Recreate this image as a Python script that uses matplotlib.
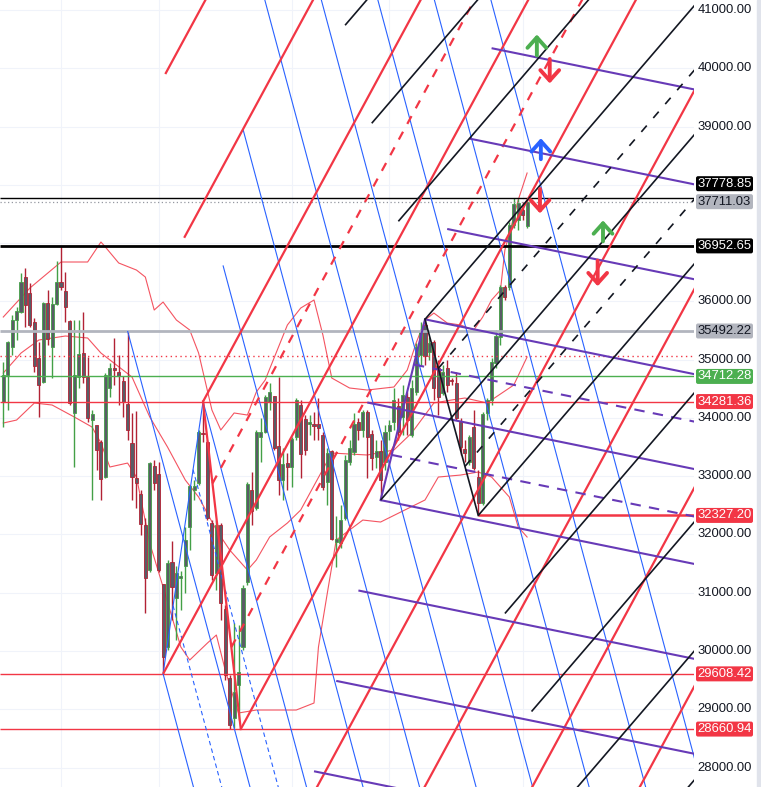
import numpy as np
import matplotlib.pyplot as plt
from matplotlib.patches import FancyBboxPatch, Rectangle

plt.rcParams['font.family'] = ['Liberation Sans Narrow', 'Liberation Sans', 'DejaVu Sans']

# ---- candles (one per bar) ----
opens = [34270, 34740, 35220, 35680, 35820, 36420, 36140, 35650, 35030, 34620,
         35970, 35220, 35950, 36330, 36180, 35660, 34090, 34700, 35110, 34700,
         33960, 33880, 33590, 32990, 34510, 34850, 34790, 34630, 34240, 33570,
         32970, 32690, 32160, 31390, 33180, 33040, 31150, 30070, 31530, 30910,
         31260, 31460, 32130, 32760, 32880, 33740, 33590, 32200, 31340, 32160,
         30720, 29540, 28850, 29420, 30070, 31190, 32760, 32460, 33670, 33760,
         34270, 34380, 33520, 32930, 33230, 33160, 33670, 34220, 33980, 33900,
         33890, 33890, 33710, 32900, 33430, 31870, 31850, 32280, 33240, 33420,
         33930, 33790, 34100, 33730, 33330, 33430, 33240, 33780, 33930, 34210,
         34020, 34360, 33710, 34440, 35080, 35590, 35130, 35300, 34860, 34430,
         34860, 34640, 34600, 33930, 33470, 33240, 33840, 32990, 32540, 34090,
         34310, 34940, 35390, 36250, 36250, 37310, 37400, 37570, 37300]
highs = [34960, 35320, 35770, 35900, 36490, 36570, 36320, 35720, 35300, 35990,
         36200, 36080, 36690, 36952.65, 36500, 35680, 35680, 35680, 35820, 35050,
         34140, 33880, 33620, 34770, 34940, 35370, 35080, 34720, 35492.22, 34090,
         34120, 32760, 32280, 33240, 33280, 33240, 31150, 31560, 31890, 31460,
         31375, 32130, 32850, 32940, 33790, 34281.36, 33620, 32250, 32250, 32200,
         30790, 29590, 30480, 30450, 31130, 32900, 33070, 33790, 34000, 34390,
         34600, 34380, 34700, 33480, 33400, 33670, 34340, 34310, 34050, 34050,
         34100, 34340, 33760, 33480, 33450, 32320, 32510, 33360, 33620, 34090,
         34000, 34140, 34140, 33790, 33620, 33620, 33880, 33960, 34510, 34340,
         34570, 34440, 34650, 35290, 35650, 35700, 35390, 35340, 34990, 34910,
         34990, 34690, 34790, 34000, 33620, 33710, 34140, 33110, 34100, 34340,
         35030, 35510, 36280, 36280, 37360, 37778.85, 37760, 37700, 37740]
lows = [33840, 34140, 35080, 35340, 35800, 35560, 35560, 34790, 34020, 34600,
        35250, 34690, 35940, 36200, 35650, 34220, 33160, 34510, 34600, 33930,
        32590, 33110, 32590, 32970, 34360, 34570, 34220, 34020, 33620, 32590,
        32460, 31990, 30650, 31360, 32760, 31360, 29608.42, 30020, 30530, 30190,
        30700, 31000, 31730, 32590, 32850, 33590, 32250, 31220, 31050, 30530,
        29500, 28660.94, 28680, 28820, 30020, 31130, 32160, 32420, 33240, 33740,
        34140, 33450, 32680, 32590, 32760, 32820, 33620, 32970, 33360, 33710,
        33620, 33620, 32760, 32510, 31900, 31440, 31770, 32250, 33190, 33360,
        33620, 33670, 32970, 33110, 33140, 32590, 33110, 33620, 33790, 33620,
        33710, 33710, 33670, 34390, 34910, 34910, 34990, 34310, 34050, 34390,
        34440, 34570, 33960, 33360, 33240, 33190, 33110, 32327.2, 32510, 33960,
        34220, 34860, 35250, 36020, 36200, 37260, 37230, 37400, 37260]
closes = [34740, 35300, 35680, 35835, 36330, 35940, 35590, 34890, 34570, 35970,
          35350, 35950, 36330, 36250, 35900, 34260, 34740, 35100, 34700, 34000,
          34070, 33450, 32950, 34740, 34860, 34830, 34720, 34270, 33790, 32990,
          32880, 32180, 31250, 33230, 32880, 31390, 29900, 31510, 31100, 31340,
          31280, 31900, 32830, 32830, 33760, 33720, 32280, 31300, 32160, 30820,
          29590, 28730, 29300, 29640, 31080, 32870, 32400, 33760, 33760, 34360,
          34440, 33480, 32930, 33210, 33160, 33640, 34310, 33380, 33450, 33920,
          33870, 33820, 32820, 33400, 31920, 31920, 32250, 33280, 33480, 33900,
          33790, 34100, 33670, 33310, 33430, 32940, 33760, 33880, 34310, 33760,
          34390, 33960, 34510, 35220, 35480, 35060, 35290, 34510, 34360, 34790,
          34570, 34630, 34000, 33500, 33400, 33670, 33140, 32540, 34070, 34310,
          34960, 35410, 36250, 36080, 37310, 37670, 37690, 37480, 37711.03]

# ---- bollinger bands, points (bar, price) ----
bb_up_bar = [0, 6, 13, 19, 22, 23, 26, 30, 32, 34, 36, 39, 42, 44, 47, 49, 52, 55, 57, 59,
             64, 67, 70, 72, 74, 78, 82, 88, 91, 93, 95, 97, 100, 103, 106, 108, 110, 112,
             113, 116, 118]
bb_up = [35732, 36230, 36676, 36676, 37019, 36933, 36659, 36538, 36418, 35852, 35989, 35680,
         35509, 35114, 34136, 33793, 34085, 34050, 34445, 34651, 35595, 35886, 36024, 35423,
         34685, 34514, 34479, 34531, 34822, 35286, 35680, 35800, 35629, 35595, 35509, 35732,
         36024, 36195, 36882, 37740, 38203]
bb_mid_bar = [0, 4, 8, 14, 19, 22, 29, 33, 37, 41, 44, 48, 51, 55, 57, 60, 64, 67, 74, 82,
              88, 92, 97, 101, 104, 109, 115, 118]
bb_mid = [34771, 35114, 35337, 35406, 35372, 35114, 34702, 34016, 33501, 32935, 32643, 32077,
          31734, 31390, 31562, 31957, 32197, 32420, 33398, 33364, 33450, 33742, 34257, 34308,
          34342, 34257, 34565, 35046]
bb_low_bar = [0, 3, 7, 11, 16, 20, 22, 24, 28, 30, 33, 36, 40, 42, 46, 48, 50, 52, 53, 57,
              66, 70, 71, 73, 75, 81, 85, 95, 98, 103, 107, 110, 114, 116, 118]
bb_low = [33913, 33964, 34256, 34222, 34016, 33844, 33570, 33158, 33226, 32986, 31850, 31099,
          30069, 29846, 30138, 30275, 29674, 29160, 28937, 28988, 28988, 29108, 30069, 30996,
          31905, 32248, 32214, 32592, 32986, 33020, 33072, 32986, 32643, 32128, 31957]

# ---- pitchforks: pivot points (bar, price) ----
red_fork = [(36, 29608.42), (45, 34281.36), (53.5, 28660.94)]
blue_fork = [(28, 35492.22), (36, 29608.42), (45, 34281.36)]
black_fork = [(85, 32590), (95, 35692), (107, 32327.2)]
purple_fork = [(82, 34265), (85, 32590), (95, 35692)]
red_levels = [-3, -2, -1, -0.5, 0, 0.5, 1, 2, 3, 4, 5]
blue_levels = [-1, -0.5, 0, 0.5, 1, 2, 3, 4, 5, 6, 7, 8]
black_levels = [-4, -3, -2, -1, -0.5, 0, 0.5, 1, 2, 3, 4, 5]
purple_levels = [-4, -3, -2, -1, -0.5, 0, 0.5, 1, 2, 3, 4]

# ---- horizontal levels ----
level_prices = [37778.85, 37711.03, 36952.65, 35492.22, 35064.0, 34712.28, 34281.36,
                32327.20, 29608.42, 28660.94]
level_kind = ['black', 'last', 'blackbold', 'graybold', 'reddot', 'green', 'red',
              'redbold', 'red', 'red']
level_start = [None] * 7 + [107, None, None]

# ---- arrow markers (bar, tail price, tip price) ----
arrow_bar = [120.2, 123.1, 121.1, 120.9, 135.1, 133.9]
arrow_tail = [40220, 40160, 38440, 37930, 37030, 36700]
arrow_tip = [40580, 39740, 38800, 37510, 37390, 36260]
arrow_color = ['#4caf50', '#f23645', '#2962ff', '#f23645', '#4caf50', '#f23645']

grid_bars = [13, 35, 65, 87, 117]
price_ticks = np.arange(28000, 41001, 1000)

# ---- figure ----
W, H = 761, 787
X0, X1 = -0.74, 155.6
Y0, Y1 = 27667, 41172
fig = plt.figure(figsize=(W / 100, H / 100), dpi=100)
ax = fig.add_axes([0, 0, 694 / W, 1])
ax.set_xlim(X0, X1)
ax.set_ylim(Y0, Y1)
for s in ax.spines.values():
    s.set_visible(False)
ax.set_xticks([])
ax.set_yticks([])
fig.patches.append(Rectangle((757 / W, 0), 4 / W, 1, transform=fig.transFigure,
                             color='#e0e3eb', zorder=0))

for p in price_ticks:
    ax.axhline(p, color='#f0f3fa', lw=0.8, zorder=0)
for b in grid_bars:
    ax.axvline(b, color='#f0f3fa', lw=0.8, zorder=0)

# bands
for bx, by in [(bb_up_bar, bb_up), (bb_mid_bar, bb_mid), (bb_low_bar, bb_low)]:
    ax.plot(bx, by, color='#f23645', lw=0.8, alpha=0.85, zorder=1)

# candles
idx = np.arange(len(opens))
o = np.array(opens); c = np.array(closes)
up = c >= o
wick_col = np.where(up, '#43a047', '#b22234')
ax.vlines(idx, lows, highs, colors=wick_col, lw=1.0, zorder=2)
body_lo = np.minimum(o, c)
body_h = np.maximum(np.abs(c - o), 25)
ax.bar(idx, body_h, bottom=body_lo, width=0.7, color='#595c66', edgecolor=wick_col,
       lw=0.6, zorder=3)

# horizontal levels
styles = {
    'black': dict(color='#000000', lw=1.0, ls='-'),
    'last': dict(color='#9598a1', lw=0.9, ls=(0, (1, 2))),
    'blackbold': dict(color='#000000', lw=2.0, ls='-'),
    'graybold': dict(color='#b2b5be', lw=2.0, ls='-'),
    'reddot': dict(color='#f23645', lw=1.0, ls=(0, (1, 2.5))),
    'green': dict(color='#4caf50', lw=1.0, ls='-'),
    'red': dict(color='#f23645', lw=1.0, ls='-'),
    'redbold': dict(color='#f23645', lw=1.8, ls='-'),
}
for p, k, st in zip(level_prices, level_kind, level_start):
    x_start = X0 if st is None else st
    ax.plot([x_start, X1], [p, p], zorder=4, solid_capstyle='butt', **styles[k])


def draw_fork(pts, levels, color, lw, dash):
    (x1, y1), (x2, y2), (x3, y3) = pts
    mx, my = (x2 + x3) / 2, (y2 + y3) / 2
    slope = (my - y1) / (mx - x1)
    dx, dy = x3 - mx, y3 - my
    for k in levels:
        sx, sy = (x1, y1) if k == 0 else (mx + k * dx, my + k * dy)
        ls = dash if abs(k) == 0.5 else '-'
        ax.plot([sx, X1 + 5], [sy, sy + slope * (X1 + 5 - sx)], color=color, lw=lw,
                ls=ls, zorder=5, solid_capstyle='butt')
    ax.plot([x2, x3], [y2, y3], color=color, lw=lw, zorder=5)


draw_fork(blue_fork, blue_levels, '#2962ff', 0.8, (0, (4, 3)))
draw_fork(red_fork, red_levels, '#f23645', 1.6, (0, (4, 4)))
draw_fork(purple_fork, purple_levels, '#673ab7', 1.5, (0, (5, 4)))
draw_fork(black_fork, black_levels, '#131722', 1.2, (0, (5, 6)))

for b, t0, t1, col in zip(arrow_bar, arrow_tail, arrow_tip, arrow_color):
    ax.annotate('', xy=(b, t1), xytext=(b, t0),
                arrowprops=dict(arrowstyle='->,head_length=0.5,head_width=0.45',
                                color=col, lw=2.8, mutation_scale=15,
                                shrinkA=0, shrinkB=0), zorder=6)

# price scale
fig.canvas.draw()
box_px = []
lab_items = [(p, k) for p, k in zip(level_prices, level_kind) if k != 'reddot']
lab_items.sort(key=lambda t: t[0])
prev = -100
for p, k in lab_items:
    yp = ax.transData.transform((0, p))[1]
    if yp < prev + 18:
        yp = prev + 18
    prev = yp
    box_px.append((p, k, yp))

box_col = {'black': ('#000000', 'white'), 'blackbold': ('#000000', 'white'),
           'last': ('#b2b5be', '#131722'), 'graybold': ('#b2b5be', '#131722'),
           'green': ('#4caf50', 'white'), 'red': ('#f23645', 'white'),
           'redbold': ('#f23645', 'white')}
for p, k, yp in box_px:
    bg, fg = box_col[k]
    fig.patches.append(FancyBboxPatch((696, yp - 7.5), 57, 15,
                                      boxstyle='round,pad=0,rounding_size=2',
                                      fc=bg, ec='none', transform=None))
    fig.text(724.5 / W, yp / H, '%.2f' % p, color=fg, fontsize=9.4, ha='center',
             va='center')

for p in price_ticks:
    yp = ax.transData.transform((0, p))[1]
    if any(abs(yp - b[2]) < 13 for b in box_px):
        continue
    fig.text(724.5 / W, yp / H, '%.2f' % p, color='#131722', fontsize=9.4, ha='center',
             va='center')

fig.savefig('out.png', dpi=100)
